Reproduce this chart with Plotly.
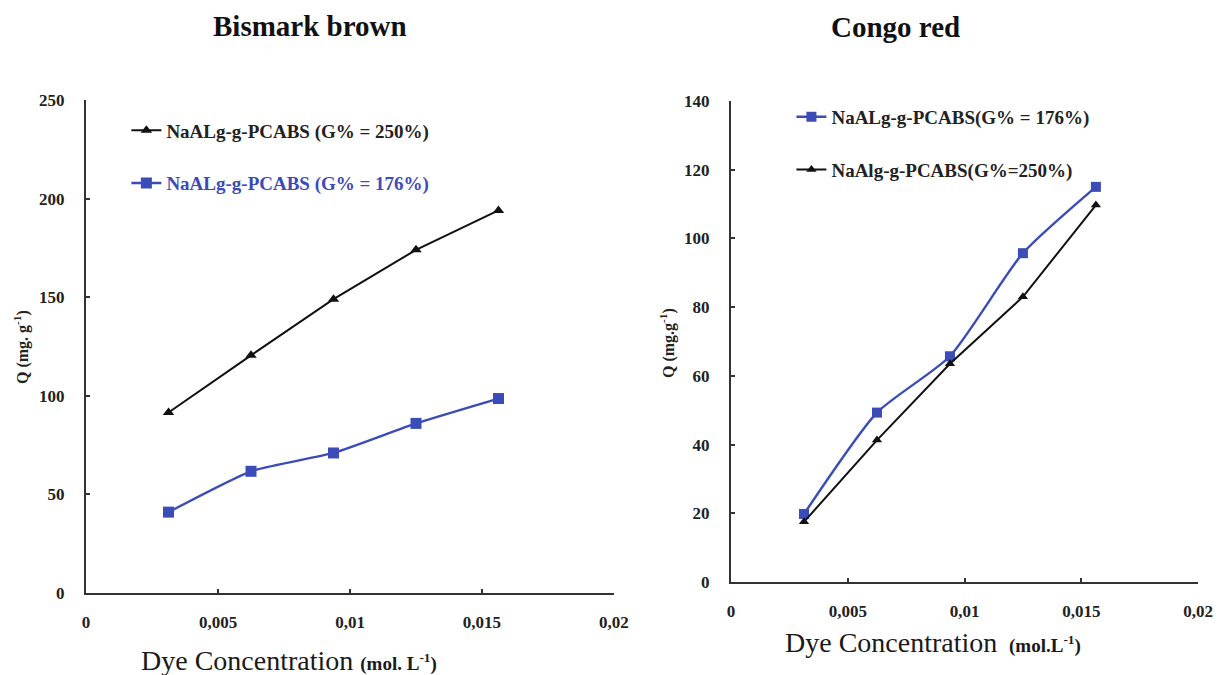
import plotly.graph_objects as go

# Dye concentration (mol/L)
conc = [0.003125, 0.00625, 0.009375, 0.0125, 0.015625]

# Bismark brown adsorption capacity Q (mg/g)
bb_g250 = [91.5, 120.5, 149.0, 174.0, 194.0]
bb_g176 = [41.0, 61.7, 71.0, 86.0, 98.6]

# Congo red adsorption capacity Q (mg/g)
cr_g176 = [19.8, 49.3, 65.7, 95.7, 115.0]
cr_g250 = [17.5, 41.3, 63.5, 83.0, 109.7]

x_tickvals = [0, 0.005, 0.01, 0.015, 0.02]
x_ticktext = ["0", "0,005", "0,01", "0,015", "0,02"]
bb_yticks = [0, 50, 100, 150, 200, 250]
cr_yticks = [0, 20, 40, 60, 80, 100, 120, 140]

BLUE = "#3b4cb8"
BLACK = "#111111"
SERIF = "Liberation Serif"

fig = go.Figure()

# Left panel: Bismark brown
fig.add_trace(go.Scatter(
    x=conc, y=bb_g250, mode="lines+markers",
    name="NaALg-g-PCABS (G% = 250%)",
    line=dict(color=BLACK, width=2),
    marker=dict(symbol="triangle-up", size=10, color=BLACK),
    xaxis="x", yaxis="y", legend="legend", legendgroup="a",
))
fig.add_trace(go.Scatter(
    x=conc, y=bb_g176, mode="lines+markers",
    name=f"<span style='color:{BLUE}'>NaALg-g-PCABS (G% = 176%)</span>",
    line=dict(color=BLUE, width=2.4, shape="spline", smoothing=0.5),
    marker=dict(symbol="square", size=11, color=BLUE),
    xaxis="x", yaxis="y", legend="legend", legendgroup="b",
))

# Right panel: Congo red
fig.add_trace(go.Scatter(
    x=conc, y=cr_g176, mode="lines+markers",
    name="NaALg-g-PCABS(G% = 176%)",
    line=dict(color=BLUE, width=2.4, shape="spline", smoothing=0.6),
    marker=dict(symbol="square", size=10, color=BLUE),
    xaxis="x2", yaxis="y2", legend="legend2", legendgroup="c",
))
fig.add_trace(go.Scatter(
    x=conc, y=cr_g250, mode="lines+markers",
    name="NaAlg-g-PCABS(G%=250%)",
    line=dict(color=BLACK, width=2),
    marker=dict(symbol="triangle-up", size=9, color=BLACK),
    xaxis="x2", yaxis="y2", legend="legend2", legendgroup="d",
))

axis_common = dict(
    showgrid=False, zeroline=False, showline=True, automargin=False,
    linecolor="#333333", linewidth=2.2,
    ticks="inside", ticklen=4, tickwidth=1.5, tickcolor="#333333",
    tickfont=dict(family=SERIF, size=17, color="#222222", weight="bold"),
)

legend_font = dict(family=SERIF, size=19, color="#222222", weight="bold")

fig.update_layout(
    width=1227, height=675,
    margin=dict(l=0, r=0, t=0, b=0, autoexpand=False),
    paper_bgcolor="white", plot_bgcolor="white",
    xaxis=dict(domain=[0.0701, 0.5004], range=[0, 0.02],
               tickvals=x_tickvals, ticktext=x_ticktext,
               ticklabelstandoff=13, anchor="y", **axis_common),
    yaxis=dict(domain=[0.1215, 0.8519], range=[0, 250],
               tickvals=bb_yticks, ticklabelstandoff=16,
               anchor="x", **axis_common),
    xaxis2=dict(domain=[0.5958, 0.9764], range=[0, 0.02],
                tickvals=x_tickvals, ticktext=x_ticktext,
                ticklabelstandoff=13, anchor="y2", **axis_common),
    yaxis2=dict(domain=[0.1378, 0.8504], range=[0, 140],
                tickvals=cr_yticks, ticklabelstandoff=16,
                anchor="x2", **axis_common),
    legend=dict(x=0.103, y=0.835, xanchor="left", yanchor="top",
                bgcolor="rgba(0,0,0,0)", tracegroupgap=25, itemwidth=30,
                font=legend_font),
    legend2=dict(x=0.645, y=0.855, xanchor="left", yanchor="top",
                 bgcolor="rgba(0,0,0,0)", tracegroupgap=25, itemwidth=30,
                 font=legend_font),
)

title_font = dict(family=SERIF, size=29, color="#111111", weight="bold")


def xtitle(unit):
    return ("Dye Concentration "
            f"<span style='font-size:19px'><b>{unit}</b></span>")


annotations = [
    dict(text="Bismark brown", x=310, y=26, font=title_font),
    dict(text="Congo red", x=895, y=27, font=title_font),
    dict(text=xtitle("(mol. L<sup>-1</sup>)"), x=289, y=660,
         font=dict(family=SERIF, size=28, color="#1a1a1a")),
    dict(text=xtitle("&nbsp;(mol.L<sup>-1</sup>)"), x=933, y=642,
         font=dict(family=SERIF, size=28, color="#1a1a1a")),
    dict(text="<b>Q (mg. g<sup>-1</sup>)</b>", x=21, y=347, textangle=-90,
         font=dict(family=SERIF, size=16, color="#222222")),
    dict(text="<b>Q (mg.g<sup>-1</sup>)</b>", x=667, y=343, textangle=-90,
         font=dict(family=SERIF, size=16, color="#222222")),
]
for a in annotations:
    fig.add_annotation(
        text=a["text"], xref="paper", yref="paper",
        x=a["x"] / 1227, y=1 - a["y"] / 675,
        xanchor="center", yanchor="middle", showarrow=False,
        textangle=a.get("textangle", 0), font=a["font"],
    )

fig.write_html("out.html")
